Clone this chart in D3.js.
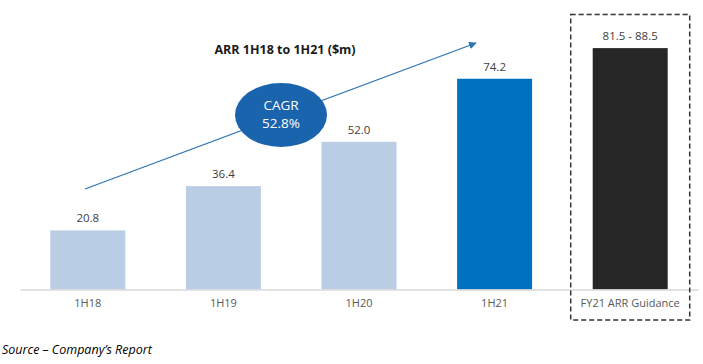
<!DOCTYPE html>
<html><head><meta charset="utf-8">
<script src="https://cdn.jsdelivr.net/npm/d3@7"></script>
<style>body{margin:0;background:#fff}svg{display:block}</style>
</head><body>
<script>
const categories = ["1H18", "1H19", "1H20", "1H21", "FY21 ARR Guidance"];
const values = [20.8, 36.4, 52.0, 74.2, 85.0];
const valueLabels = ["20.8", "36.4", "52.0", "74.2", "81.5 - 88.5"];
const barColors = ["#b9cde5", "#b9cde5", "#b9cde5", "#0070c0", "#262626"];
const title = "ARR 1H18 to 1H21 ($m)";
const cagrLines = ["CAGR", "52.8%"];
const source = "Source \u2013 Company\u2019s Report";

const W = 703, H = 364;
const svg = d3.select("body").append("svg").attr("width", W).attr("height", H);
const font = "'Open Sans', 'Noto Sans', sans-serif";

const x = d3.scaleBand().domain(categories).range([20, 698]).paddingInner(0.447).paddingOuter(0.2235);
const y = d3.scaleLinear().domain([0, 100]).range([289.5, 5.5]);

// bars
svg.selectAll("rect.bar").data(categories).enter().append("rect")
  .attr("class", "bar")
  .attr("x", d => x(d))
  .attr("width", x.bandwidth())
  .attr("y", (d, i) => y(values[i]))
  .attr("height", (d, i) => y(0) - y(values[i]))
  .attr("fill", (d, i) => barColors[i]);

// axis
const ax = svg.append("g").attr("transform", `translate(0,${y(0)})`)
  .call(d3.axisBottom(x).tickSize(0).tickPadding(10));
ax.select(".domain").attr("stroke", "#d9d9d9").attr("stroke-width", 1.5);
ax.selectAll("text").attr("font-family", font).attr("font-size", 11).attr("fill", "#595959");

// value labels
svg.selectAll("text.val").data(categories).enter().append("text")
  .attr("class", "val")
  .attr("x", d => x(d) + x.bandwidth() / 2)
  .attr("y", (d, i) => y(values[i]) - 8)
  .attr("text-anchor", "middle")
  .attr("font-family", font).attr("font-size", 11.5).attr("fill", "#404040")
  .text((d, i) => valueLabels[i]);

// dashed box around guidance
const g = categories[4];
svg.append("rect")
  .attr("x", x(g) - 22).attr("y", 14.5)
  .attr("width", x.bandwidth() + 44).attr("height", 320 - 14.5)
  .attr("fill", "none").attr("stroke", "#333").attr("stroke-width", 1.5)
  .attr("stroke-dasharray", "5,3");

// title
svg.append("text").attr("x", 285).attr("y", 54).attr("text-anchor", "middle")
  .attr("font-family", font).attr("font-weight", "bold").attr("font-size", 12.5).attr("fill", "#1a1a1a")
  .text(title);

// arrow
svg.append("defs").append("marker").attr("id", "ah").attr("viewBox", "0 0 10 10")
  .attr("refX", 9).attr("refY", 5).attr("markerWidth", 6).attr("markerHeight", 6).attr("orient", "auto")
  .append("path").attr("d", "M0,0L10,5L0,10z").attr("fill", "#2e75b6");
svg.append("line").attr("x1", 85).attr("y1", 189).attr("x2", 476).attr("y2", 43)
  .attr("stroke", "#2e75b6").attr("stroke-width", 1.3).attr("marker-end", "url(#ah)");

// CAGR ellipse
svg.append("ellipse").attr("cx", 281).attr("cy", 115).attr("rx", 46).attr("ry", 32).attr("fill", "#1a63ad");
svg.append("text").attr("x", 281).attr("y", 110).attr("text-anchor", "middle")
  .attr("font-family", font).attr("font-size", 13.5).attr("fill", "#fff").text(cagrLines[0]);
svg.append("text").attr("x", 281).attr("y", 128).attr("text-anchor", "middle")
  .attr("font-family", font).attr("font-size", 13.5).attr("fill", "#fff").text(cagrLines[1]);

// source
svg.append("text").attr("x", 2).attr("y", 354)
  .attr("font-family", font).attr("font-style", "italic").attr("font-size", 12.5).attr("fill", "#000")
  .text(source);
</script>
</body></html>
